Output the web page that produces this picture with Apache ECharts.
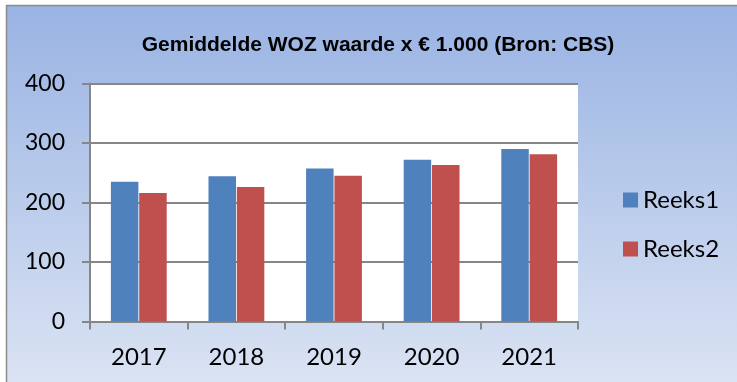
<!DOCTYPE html>
<html>
<head>
<meta charset="utf-8">
<style>
  html, body { margin: 0; padding: 0; background: #ffffff; }
  #chart { width: 737px; height: 382px; }
</style>
<script src="https://cdn.jsdelivr.net/npm/echarts@6/dist/echarts.min.js"></script>
</head>
<body>
<div id="chart"></div>
<script>
// Average WOZ value (x € 1.000), source CBS
const years = ['2017', '2018', '2019', '2020', '2021'];
const reeks1 = [235, 244, 257, 272, 290];
const reeks2 = [216, 226, 245, 263, 281];
const yTicks = { min: 0, max: 400, interval: 100 };

const labelFont = 'Lato, "Open Sans", sans-serif';
const axisGray = '#868686';

const chart = echarts.init(document.getElementById('chart'), null, { renderer: 'canvas' });

chart.setOption({
  animation: false,
  backgroundColor: '#ffffff',
  graphic: [
    {
      // chart-area background
      type: 'rect',
      z: -10,
      shape: { x: 7, y: 6, width: 730, height: 376 },
      style: {
        fill: new echarts.graphic.LinearGradient(0, 0, 0, 1, [
          { offset: 0, color: '#99B3E3' },
          { offset: 1, color: '#DAE3F3' }
        ])
      }
    },
    {
      // chart-area frame (top and left edges)
      type: 'polyline',
      z: -9,
      shape: { points: [[6.5, 382], [6.5, 5.5], [737, 5.5]] },
      style: { stroke: '#8C8C8C', lineWidth: 1.5, fill: null }
    }
  ],
  title: {
    text: 'Gemiddelde WOZ waarde x € 1.000 (Bron: CBS)',
    left: 373,
    textAlign: 'center',
    top: 30,
    textStyle: {
      fontFamily: '"Liberation Sans", Arial, sans-serif',
      fontWeight: 'bold',
      fontSize: 21,
      color: '#000000'
    }
  },
  legend: {
    orient: 'vertical',
    left: 618,
    top: 183,
    itemWidth: 15,
    itemHeight: 15,
    itemGap: 25,
    icon: 'rect',
    textStyle: { fontFamily: labelFont, fontSize: 24, color: '#000000' }
  },
  grid: {
    left: 90,
    right: 159,
    top: 83.5,
    bottom: 60.5,
    show: true,
    backgroundColor: '#ffffff',
    borderWidth: 0
  },
  xAxis: {
    type: 'category',
    data: years,
    axisLine: { lineStyle: { color: axisGray, width: 2 } },
    axisTick: { show: true, length: 8, lineStyle: { color: axisGray, width: 2 } },
    axisLabel: { fontFamily: labelFont, fontSize: 24, color: '#000000', margin: 24 }
  },
  yAxis: {
    type: 'value',
    min: yTicks.min,
    max: yTicks.max,
    interval: yTicks.interval,
    axisLine: { show: true, lineStyle: { color: axisGray, width: 2 } },
    axisTick: { show: true, length: 8, lineStyle: { color: axisGray, width: 2 } },
    splitLine: { lineStyle: { color: axisGray, width: 2 } },
    axisLabel: { fontFamily: labelFont, fontSize: 23, color: '#000000', margin: 25 }
  },
  series: [
    {
      name: 'Reeks1',
      type: 'bar',
      data: reeks1,
      barWidth: 27.5,
      barGap: '3%',
      itemStyle: { color: '#4F81BD' }
    },
    {
      name: 'Reeks2',
      type: 'bar',
      data: reeks2,
      barWidth: 27.5,
      barGap: '3%',
      itemStyle: { color: '#C0504D' }
    }
  ]
});
</script>
</body>
</html>
